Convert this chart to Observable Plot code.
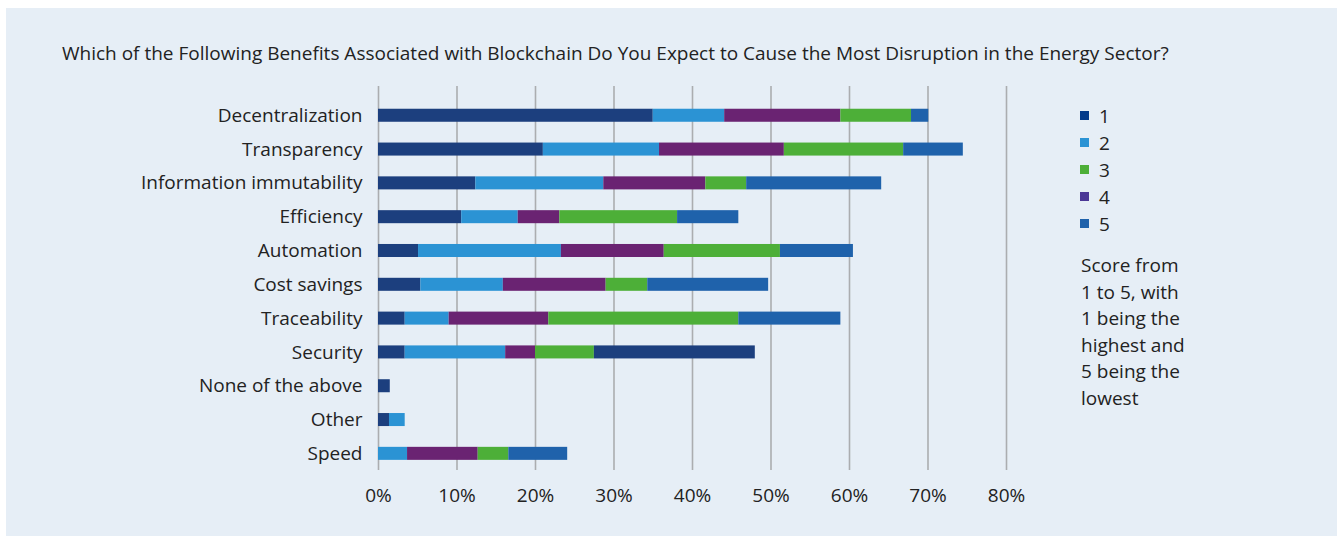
<!DOCTYPE html>
<html><head><meta charset="utf-8">
<script src="https://cdn.jsdelivr.net/npm/d3@7"></script>
<script src="https://cdn.jsdelivr.net/npm/@observablehq/plot@0.6"></script>
<style>
html,body{margin:0;padding:0;background:#fff;font-family:"Open Sans",sans-serif;color:#222;}
#panel{position:absolute;left:6px;top:8px;width:1331px;height:528px;background:#e6eef6;}
#title{position:absolute;left:62px;top:40px;font-size:19px;white-space:nowrap;color:#222;}
#chart{position:absolute;left:0;top:0;}
#legend{position:absolute;left:1080px;top:102px;font-size:19px;}
.row{display:flex;align-items:center;height:27px;}
.sw{width:9px;height:9px;margin-right:10px;}
#note{position:absolute;left:1081px;top:252px;font-size:19px;line-height:26.5px;width:110px;}
</style></head>
<body>
<div id="panel"></div>
<div id="title">Which of the Following Benefits Associated with Blockchain Do You Expect to Cause the Most Disruption in the Energy Sector?</div>
<div id="chart"></div>
<div id="legend"></div>
<div id="note">Score from 1 to 5, with 1 being the highest and 5 being the lowest</div>
<script>
const categories = ["Decentralization","Transparency","Information immutability","Efficiency","Automation","Cost savings","Traceability","Security","None of the above","Other","Speed"];
// segment values (%) in the order they are stacked in the picture
const score1 = [35.0,21.0,12.4,10.6,5.1,5.4,3.4,3.4,1.5,1.4,0];
const score2 = [9.1,14.8,16.3,7.2,18.2,10.5,5.6,12.8,0,2.0,3.7];
const score4 = [14.8,15.9,13.0,5.3,13.1,13.1,12.7,3.8,0,0,9.0];
const score3 = [9.0,15.2,5.2,15.0,14.8,5.3,24.2,7.5,0,0,3.9];
const score5 = [2.2,7.6,17.2,7.8,9.3,15.4,13.0,20.5,0,0,7.5];
const stackOrder = ["1","2","4","3","5"];
const xTicks = [0,10,20,30,40,50,60,70,80];
const legendKeys = ["1","2","3","4","5"];

const barColors = {"1":"#1c3f7e","2":"#2b93d4","3":"#4daf38","4":"#6a2372","5":"#1f62ab"};
const legendColors = {"1":"#02398a","2":"#2b93d4","3":"#4daf38","4":"#4b3796","5":"#1f62ab"};

const seriesValues = {"1":score1,"2":score2,"3":score3,"4":score4,"5":score5};
const rows = [];
for (const s of stackOrder) {
  categories.forEach((c,i) => rows.push({category:c, series:s, value:seriesValues[s][i]}));
}

const chart = Plot.plot({
  width: 1060,
  height: 520,
  marginLeft: 378,
  marginRight: 54,
  marginTop: 86,
  marginBottom: 50,
  style: {fontFamily:'"Open Sans", sans-serif', fontSize:"19px", color:"#222", background:"transparent"},
  x: {domain:[0,80], range:[378,1006]},
  y: {domain: categories, range:[98.6,470], paddingInner:0.615, paddingOuter:0.3, round:false},
  color: {type:"identity"},
  marks: [
    Plot.ruleX(xTicks, {stroke:"#abadb0", strokeWidth:1.6}),
    Plot.barX(rows, Plot.stackX({
      y:"category", x:"value", order:null,
      fill: d => (d.category === "Security" && d.series === "5") ? barColors["1"] : barColors[d.series]
    })),
    Plot.axisY({tickSize:0, tickPadding:16, label:null}),
    Plot.axisX(xTicks, {tickSize:0, tickPadding:18, tickFormat:d => d + "%", label:null})
  ]
});
document.getElementById("chart").appendChild(chart);

const lg = document.getElementById("legend");
for (const k of legendKeys) {
  const r = document.createElement("div"); r.className = "row";
  const sw = document.createElement("div"); sw.className = "sw"; sw.style.background = legendColors[k];
  const t = document.createElement("span"); t.textContent = k;
  r.appendChild(sw); r.appendChild(t); lg.appendChild(r);
}
</script>
</body></html>
